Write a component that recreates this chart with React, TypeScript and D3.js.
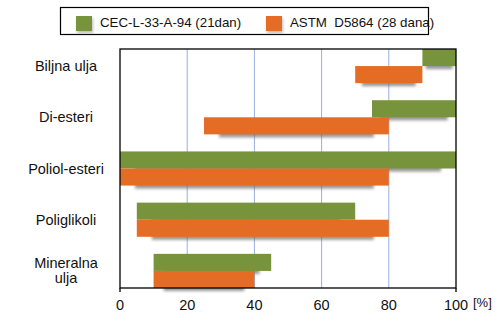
import React from "react";
import * as d3 from "d3";

const categories = ["Biljna ulja", "Di-esteri", "Poliol-esteri", "Poliglikoli", "Mineralna ulja"];
const seriesNames = ["CEC-L-33-A-94 (21dan)", "ASTM  D5864 (28 dana)"];
const cecStart = [90, 75, 0, 5, 10];
const cecEnd = [100, 100, 100, 70, 45];
const astmStart = [70, 25, 0, 5, 10];
const astmEnd = [90, 80, 80, 80, 40];
const xTicks = [0, 20, 40, 60, 80, 100];

const colors = ["#77933c", "#e46c24"];

export default function App() {
  const W = 502, H = 325;
  const left = 120, right = 456, top = 49, bottom = 288;
  const x = d3.scaleLinear().domain([0, 100]).range([left, right]);
  const y = d3.scaleBand<string>().domain(categories).range([top, bottom]).paddingInner(1 / 3).paddingOuter(0);
  const sub = d3.scaleBand<number>().domain([0, 1]).range([0, y.bandwidth()]);
  const series = [
    { start: cecStart, end: cecEnd },
    { start: astmStart, end: astmEnd },
  ];
  const font = "'Liberation Sans', Arial, sans-serif";

  return (
    <svg width={W} height={H} style={{ position: "absolute", left: 0, top: 0, background: "#fff" }} fontFamily={font}>
      <defs>
        <filter id="blur" x="-20%" y="-100%" width="140%" height="300%">
          <feGaussianBlur stdDeviation="1.4" />
        </filter>
      </defs>
      <rect x={0} y={0} width={W} height={H} fill="#fff" />
      {/* gridlines */}
      {xTicks.filter((t) => t > 0 && t < 100).map((t) => (
        <line key={t} x1={x(t)} x2={x(t)} y1={top} y2={bottom} stroke="#9aaee0" strokeWidth={1} />
      ))}
      {/* shadows */}
      {categories.map((c, i) =>
        series.map((s, k) => {
          const x0 = x(s.start[i]), x1 = x(s.end[i]);
          const yb = (y(c) as number) + (sub(k) as number) + sub.bandwidth();
          const inset = Math.min(15, (x1 - x0) * 0.1);
          return (
            <rect key={`sh${i}-${k}`} x={x0 + inset} y={yb - 3} width={Math.max(0, x1 - x0 - 2 * inset)} height={6}
              fill="#6a6a6a" opacity={0.7} filter="url(#blur)" />
          );
        })
      )}
      {/* bars */}
      {categories.map((c, i) =>
        series.map((s, k) => (
          <rect key={`b${i}-${k}`} x={x(s.start[i])} y={(y(c) as number) + (sub(k) as number)}
            width={x(s.end[i]) - x(s.start[i])} height={sub.bandwidth()} fill={colors[k]} />
        ))
      )}
      {/* frame */}
      <rect x={left} y={top} width={right - left} height={bottom - top} fill="none" stroke="#000" strokeWidth={1.3} />
      <line x1={left} x2={left} y1={bottom} y2={bottom + 4} stroke="#000" strokeWidth={1.3} />
      <line x1={right} x2={right} y1={bottom} y2={bottom + 4} stroke="#000" strokeWidth={1.3} />
      {/* x tick labels */}
      {xTicks.map((t) => (
        <text key={t} x={x(t)} y={310} textAnchor="middle" fontSize={14.5} fill="#111">{t}</text>
      ))}
      <text x={473} y={307} fontSize={13} fill="#111">[%]</text>
      {/* y labels */}
      {categories.map((c) => {
        const cy = (y(c) as number) + y.bandwidth() / 2;
        const parts = c === "Mineralna ulja" ? ["Mineralna", "ulja"] : [c];
        const lh = 15;
        return (
          <text key={c} x={66} textAnchor="middle" fontSize={14.5} fill="#111">
            {parts.map((p, j) => (
              <tspan key={j} x={66} y={cy + 5 + (j - (parts.length - 1) / 2) * lh}>{p}</tspan>
            ))}
          </text>
        );
      })}
      {/* legend */}
      <rect x={60.5} y={7.5} width={368} height={27} fill="#fff" stroke="#000" strokeWidth={1.2} />
      {seriesNames.map((n, k) => {
        const lx = k === 0 ? 76 : 266;
        return (
          <g key={n}>
            <rect x={lx + 1} y={18} width={16} height={15} fill="#777" opacity={0.5} filter="url(#blur)" />
            <rect x={lx} y={16} width={16} height={15} fill={colors[k]} />
            <text x={lx + 24} y={27} fontSize={13.3} fill="#111" style={{ whiteSpace: "pre" }}>{n}</text>
          </g>
        );
      })}
    </svg>
  );
}
